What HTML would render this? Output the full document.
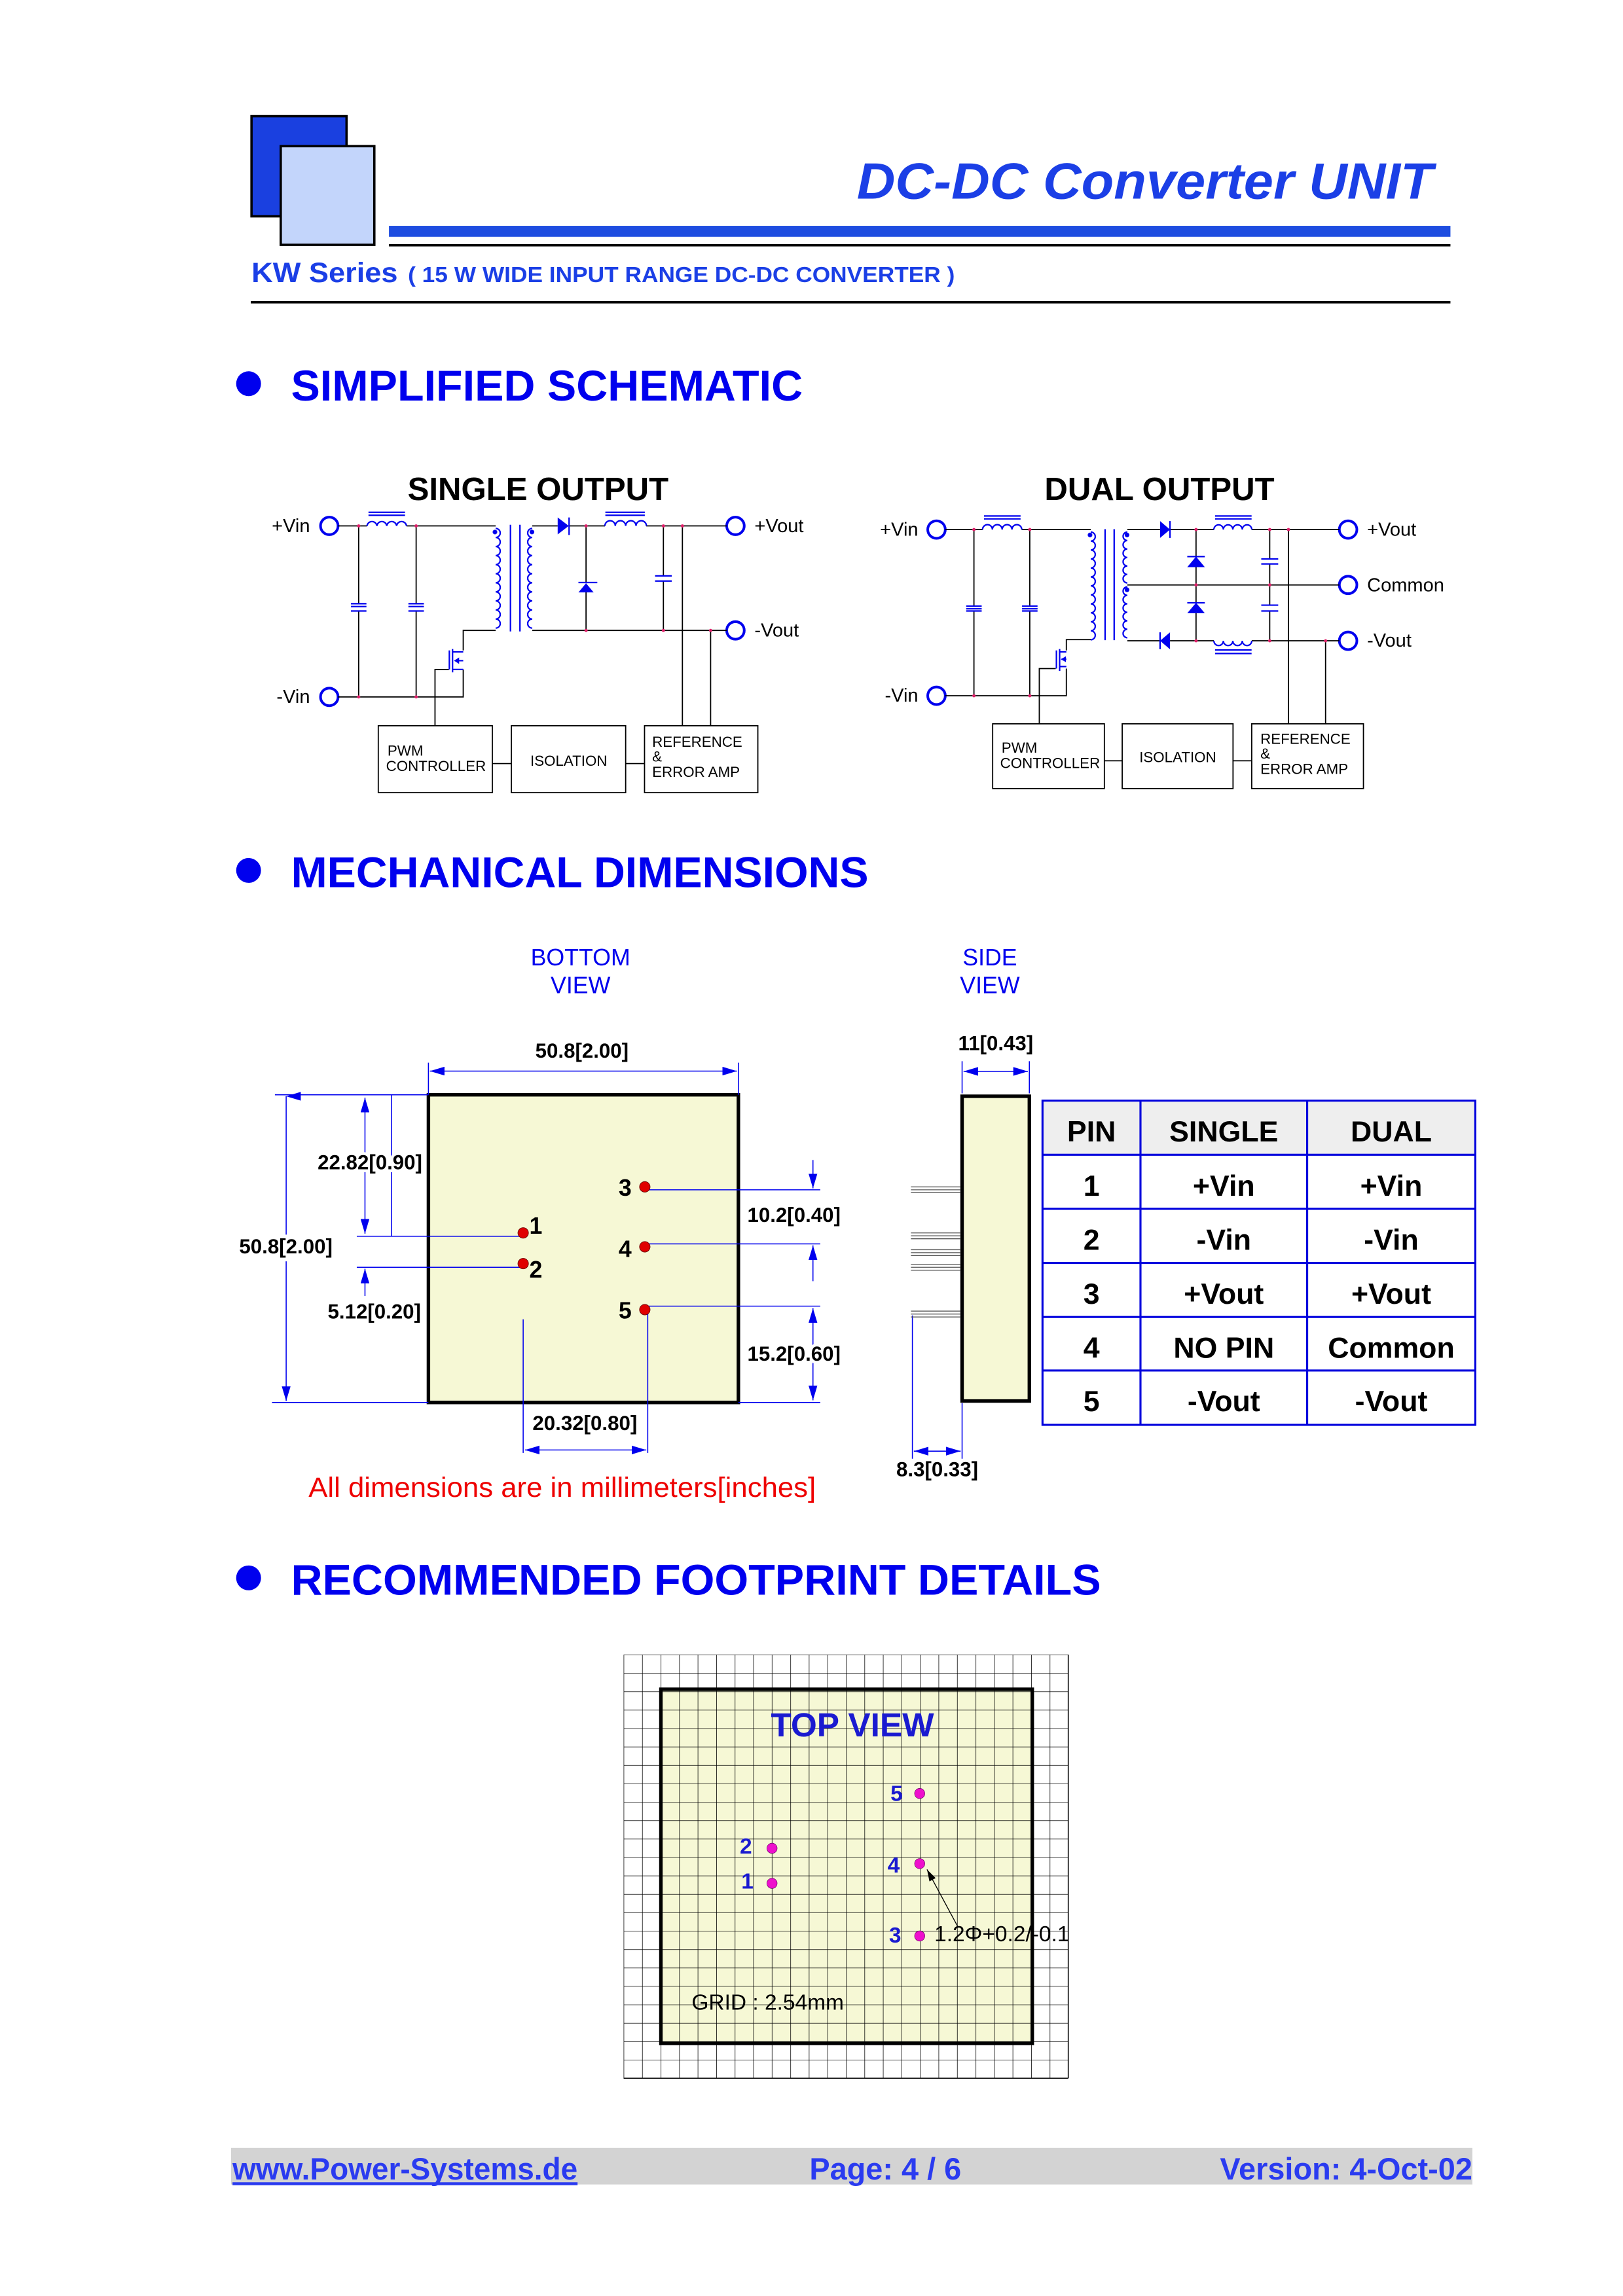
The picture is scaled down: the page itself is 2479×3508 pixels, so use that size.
<!DOCTYPE html>
<html><head><meta charset="utf-8"><style>
html,body{margin:0;padding:0;background:#fff}
svg{display:block}
text{font-family:"Liberation Sans",Arial,sans-serif}
</style></head><body>
<svg width="2479" height="3508" viewBox="0 0 1110 1570.8" xmlns="http://www.w3.org/2000/svg">
<defs>
<pattern id="grid" x="426.5" y="1132" width="12.67" height="12.6" patternUnits="userSpaceOnUse">
<path d="M0 0H12.67M0 0V12.6" stroke="#000" stroke-width="0.7" fill="none"/>
</pattern>
<marker id="ar" viewBox="0 0 10 6" refX="10" refY="3" markerWidth="10" markerHeight="6" orient="auto-start-reverse" markerUnits="userSpaceOnUse"><path d="M0 0L10 3L0 6z" fill="#0000ee"/></marker>
<marker id="ak" viewBox="0 0 10 6" refX="10" refY="3" markerWidth="8" markerHeight="5" orient="auto" markerUnits="userSpaceOnUse"><path d="M0 0L10 3L0 6z" fill="#000"/></marker>
</defs>

<!-- HEADER -->
<rect x="172" y="79.5" width="65" height="68.5" fill="#1a40e0" stroke="#000" stroke-width="1.6"/>
<rect x="192" y="100" width="64" height="67.5" fill="#c3d5fb" stroke="#000" stroke-width="1.6"/>
<text x="980" y="136" text-anchor="end" font-size="35" font-weight="bold" font-style="italic" fill="#1b3fe6" textLength="394" lengthAdjust="spacingAndGlyphs">DC-DC Converter UNIT</text>
<rect x="266" y="154.5" width="726" height="7.5" fill="#1e4de0"/>
<rect x="266" y="167" width="726" height="1.6" fill="#000"/>
<text x="172" y="193" font-size="19" font-weight="bold" fill="#1b3fe6" textLength="100" lengthAdjust="spacingAndGlyphs">KW Series</text>
<text x="279" y="193" font-size="15" font-weight="bold" fill="#1b3fe6" textLength="374" lengthAdjust="spacingAndGlyphs">( 15 W WIDE INPUT RANGE DC-DC CONVERTER )</text>
<rect x="171.5" y="206" width="820.5" height="1.6" fill="#000"/>

<!-- SECTION HEADINGS -->
<circle cx="170" cy="262.5" r="8.5" fill="#0000ee"/>
<text x="199" y="274" font-size="29.5" font-weight="bold" fill="#0000ee" textLength="350" lengthAdjust="spacingAndGlyphs">SIMPLIFIED SCHEMATIC</text>
<circle cx="170" cy="595.5" r="8.5" fill="#0000ee"/>
<text x="199" y="607" font-size="29.5" font-weight="bold" fill="#0000ee" textLength="395" lengthAdjust="spacingAndGlyphs">MECHANICAL DIMENSIONS</text>
<circle cx="170" cy="1079.5" r="8.5" fill="#0000ee"/>
<text x="199" y="1091" font-size="29.5" font-weight="bold" fill="#0000ee" textLength="554" lengthAdjust="spacingAndGlyphs">RECOMMENDED FOOTPRINT DETAILS</text>

<!-- SINGLE OUTPUT SCHEMATIC -->
<g stroke-width="0.8" fill="none">
<text x="368" y="342" text-anchor="middle" font-size="22" font-weight="bold" fill="#000" stroke="none">SINGLE OUTPUT</text>
<g fill="#000" stroke="none" font-size="13">
<text x="212" y="364" text-anchor="end">+Vin</text>
<text x="212" y="481" text-anchor="end">-Vin</text>
<text x="516" y="364">+Vout</text>
<text x="516" y="435.5">-Vout</text>
</g>
<g stroke="#0000ee" stroke-width="1.8">
<circle cx="225.2" cy="359.8" r="6"/><circle cx="225.2" cy="476.8" r="6"/>
<circle cx="503" cy="359.8" r="6"/><circle cx="503" cy="431.3" r="6"/>
</g>
<g stroke="#000">
<path d="M231.2 359.8H251M278 359.8H339M364 359.8H381.4M389 359.8H413.7M442 359.8H497"/>
<path d="M231.2 476.8H316.8V458M316.8 445V431.3H339M364 431.3H497"/>
<path d="M245.3 359.8V413M245.3 418V476.8M284.6 359.8V413M284.6 418V476.8"/>
<path d="M400.8 359.8V399M400.8 405V431.3"/>
<path d="M453.7 359.8V394M453.7 397.5V431.3M466.7 359.8V496.5M486 431.3V496.5"/>
<path d="M307 458H297.5V496.5"/>
<rect x="258.7" y="496.5" width="78" height="45.8"/>
<rect x="349.7" y="496.5" width="78.2" height="45.8"/>
<rect x="440.8" y="496.5" width="77.5" height="45.8"/>
<path d="M336.7 522.4H349.7M427.9 522.4H440.8"/>
</g>
<g stroke="#0000ee" stroke-width="1">
<path d="M240 413H250.6M240 415H250.6M240 418H250.6M279.3 413H289.9M279.3 415H289.9M279.3 418H289.9"/>
<path d="M448 394H459.4M448 397.5H459.4"/>
<path d="M252 350.5H277M252 352.5H277"/>
<path d="M414 350.5H441M414 352.5H441"/>
<path d="M349.1 359V432M355.6 359V432"/>
<path d="M251 359.8a3.4 3.4 0 0 1 6.75 0a3.4 3.4 0 0 1 6.75 0a3.4 3.4 0 0 1 6.75 0a3.4 3.4 0 0 1 6.75 0"/>
<path d="M413.7 359.8a3.5 3.5 0 0 1 7.1 0a3.5 3.5 0 0 1 7.1 0a3.5 3.5 0 0 1 7.1 0a3.5 3.5 0 0 1 7.1 0"/>
<path d="M339 361.5a3.1 3.1 0 0 1 0 6.2a3.1 3.1 0 0 1 0 6.2a3.1 3.1 0 0 1 0 6.2a3.1 3.1 0 0 1 0 6.2a3.1 3.1 0 0 1 0 6.2a3.1 3.1 0 0 1 0 6.2a3.1 3.1 0 0 1 0 6.2a3.1 3.1 0 0 1 0 6.2a3.1 3.1 0 0 1 0 6.2a3.1 3.1 0 0 1 0 6.2a3.1 3.1 0 0 1 0 6.2"/>
<path d="M364 361.5a3.1 3.1 0 0 0 0 6.2a3.1 3.1 0 0 0 0 6.2a3.1 3.1 0 0 0 0 6.2a3.1 3.1 0 0 0 0 6.2a3.1 3.1 0 0 0 0 6.2a3.1 3.1 0 0 0 0 6.2a3.1 3.1 0 0 0 0 6.2a3.1 3.1 0 0 0 0 6.2a3.1 3.1 0 0 0 0 6.2a3.1 3.1 0 0 0 0 6.2a3.1 3.1 0 0 0 0 6.2"/>
<path d="M307.3 445V458M309.5 444V460M309.5 446H316.8M309.5 458H316.8M316.8 452H311"/>
<path d="M389.2 354V366M395.6 398.5H408.5"/>
</g>
<g fill="#0000ee" stroke="none">
<circle cx="338.5" cy="364" r="1.6"/><circle cx="363.8" cy="364" r="1.6"/>
<path d="M381.4 354L389 359.8L381.4 365.6z"/>
<path d="M395.6 405.3L400.8 399L406 405.3z"/>
<path d="M310.5 452L314 449.8V454.2z"/>
</g>
<g fill="#000" stroke="none" font-size="10">
<text x="265" y="517">PWM</text><text x="264" y="527.5">CONTROLLER</text>
<text x="389" y="524" text-anchor="middle">ISOLATION</text>
<text x="446" y="511">REFERENCE</text><text x="446" y="521">&amp;</text><text x="446" y="531.5">ERROR AMP</text>
</g>
<g fill="#e0206a" stroke="none">
<circle cx="245.3" cy="359.8" r="1.1"/><circle cx="284.6" cy="359.8" r="1.1"/><circle cx="245.3" cy="476.8" r="1.1"/><circle cx="284.6" cy="476.8" r="1.1"/><circle cx="400.8" cy="359.8" r="1.1"/><circle cx="400.8" cy="431.3" r="1.1"/><circle cx="453.7" cy="359.8" r="1.1"/><circle cx="466.7" cy="359.8" r="1.1"/><circle cx="453.7" cy="431.3" r="1.1"/><circle cx="486" cy="431.3" r="1.1"/>
</g>
</g>

<!-- DUAL OUTPUT SCHEMATIC -->
<g stroke-width="0.8" fill="none">
<text x="793" y="342" text-anchor="middle" font-size="22" font-weight="bold" fill="#000" stroke="none">DUAL OUTPUT</text>
<g fill="#000" stroke="none" font-size="13">
<text x="628" y="366.5" text-anchor="end">+Vin</text>
<text x="628" y="480" text-anchor="end">-Vin</text>
<text x="935" y="366.5">+Vout</text>
<text x="935" y="404.5">Common</text>
<text x="935" y="442.5">-Vout</text>
</g>
<g stroke="#0000ee" stroke-width="1.8">
<circle cx="640.5" cy="362.3" r="6"/><circle cx="640.5" cy="476" r="6"/>
<circle cx="922" cy="362.3" r="6"/><circle cx="922" cy="400.2" r="6"/><circle cx="922" cy="438.4" r="6"/>
</g>
<g stroke="#000">
<path d="M646.5 362.3H672M698.8 362.3H746M771 362.3H793.4M800.2 362.3H830.2M856.1 362.3H916"/>
<path d="M771 400.2H916"/>
<path d="M771 438.4H793.4M800.2 438.4H830.2M856.1 438.4H916"/>
<path d="M646.5 476H729.3V457.4M729.3 445V437.6H746"/>
<path d="M666.1 362.3V414.7M666.1 418V476M704.3 362.3V414.7M704.3 418V476"/>
<path d="M818 362.3V380.8M818 388V412.4M818 419.5V438.4"/>
<path d="M868.4 362.3V382.4M868.4 385.8V414M868.4 418V438.4"/>
<path d="M881.2 362.3V495.2M906.6 438.4V495.2M722 457.4H710.8V495.2"/>
<rect x="678.9" y="495.2" width="76.4" height="44.3"/>
<rect x="767.5" y="495.2" width="75.8" height="44.3"/>
<rect x="856.1" y="495.2" width="76.4" height="44.3"/>
<path d="M755.3 520.5H767.5M843.3 520.5H856.1"/>
</g>
<g stroke="#0000ee" stroke-width="1">
<path d="M660.8 414.7H671.4M660.8 416.5H671.4M660.8 418H671.4M699 414.7H709.6M699 416.5H709.6M699 418H709.6"/>
<path d="M862.6 382.4H874.2M862.6 385.8H874.2M862.6 414H874.2M862.6 418H874.2"/>
<path d="M673 353H698M673 355H698M831 353H856M831 355H856M831 444.7H856M831 447.1H856"/>
<path d="M755.8 362V438M762 362V438"/>
<path d="M672 362.3a3.35 3.35 0 0 1 6.7 0a3.35 3.35 0 0 1 6.7 0a3.35 3.35 0 0 1 6.7 0a3.35 3.35 0 0 1 6.7 0"/>
<path d="M830.2 362.3a3.24 3.24 0 0 1 6.48 0a3.24 3.24 0 0 1 6.48 0a3.24 3.24 0 0 1 6.48 0a3.24 3.24 0 0 1 6.48 0"/>
<path d="M830.2 438.4a3.24 3.24 0 0 0 6.48 0a3.24 3.24 0 0 0 6.48 0a3.24 3.24 0 0 0 6.48 0a3.24 3.24 0 0 0 6.48 0"/>
<path d="M746 364a3.07 3.07 0 0 1 0 6.14a3.07 3.07 0 0 1 0 6.14a3.07 3.07 0 0 1 0 6.14a3.07 3.07 0 0 1 0 6.14a3.07 3.07 0 0 1 0 6.14a3.07 3.07 0 0 1 0 6.14a3.07 3.07 0 0 1 0 6.14a3.07 3.07 0 0 1 0 6.14a3.07 3.07 0 0 1 0 6.14a3.07 3.07 0 0 1 0 6.14a3.07 3.07 0 0 1 0 6.14a3.07 3.07 0 0 1 0 6.14"/>
<path d="M771 364a2.9 2.9 0 0 0 0 5.8a2.9 2.9 0 0 0 0 5.8a2.9 2.9 0 0 0 0 5.8a2.9 2.9 0 0 0 0 5.8a2.9 2.9 0 0 0 0 5.8a2.9 2.9 0 0 0 0 5.8M771 401.5a2.9 2.9 0 0 0 0 5.8a2.9 2.9 0 0 0 0 5.8a2.9 2.9 0 0 0 0 5.8a2.9 2.9 0 0 0 0 5.8a2.9 2.9 0 0 0 0 5.8a2.9 2.9 0 0 0 0 5.8"/>
<path d="M722.5 445V457.4M724.7 444V459M724.7 446H729.3M724.7 456H729.3M729.3 451H726"/>
<path d="M800.2 356.5V368M793.4 432.6V444.2M812 380.8H824M812 412.4H824"/>
</g>
<g fill="#0000ee" stroke="none">
<circle cx="745.5" cy="366" r="1.6"/><circle cx="770.8" cy="366" r="1.6"/><circle cx="770.8" cy="403.5" r="1.6"/>
<path d="M793.4 356.5L800.2 362.3L793.4 368z"/>
<path d="M800.2 432.6L793.4 438.4L800.2 444.2z"/>
<path d="M812 388L818 380.8L824 388z"/>
<path d="M812 419.5L818 412.4L824 419.5z"/>
<path d="M725.5 451L729 449V453z"/>
</g>
<g fill="#000" stroke="none" font-size="10">
<text x="685" y="515">PWM</text><text x="684" y="525.5">CONTROLLER</text>
<text x="805.5" y="521.5" text-anchor="middle">ISOLATION</text>
<text x="862" y="509">REFERENCE</text><text x="862" y="519">&amp;</text><text x="862" y="529.5">ERROR AMP</text>
</g>
<g fill="#e0206a" stroke="none">
<circle cx="666.1" cy="362.3" r="1.1"/><circle cx="704.3" cy="362.3" r="1.1"/><circle cx="666.1" cy="476" r="1.1"/><circle cx="704.3" cy="476" r="1.1"/><circle cx="818" cy="362.3" r="1.1"/><circle cx="818" cy="400.2" r="1.1"/><circle cx="818" cy="438.4" r="1.1"/><circle cx="868.4" cy="362.3" r="1.1"/><circle cx="868.4" cy="400.2" r="1.1"/><circle cx="868.4" cy="438.4" r="1.1"/><circle cx="881.2" cy="362.3" r="1.1"/><circle cx="906.6" cy="438.4" r="1.1"/>
</g>
</g>

<!-- MECHANICAL: BOTTOM VIEW -->
<text x="397" y="660.5" text-anchor="middle" font-size="16" fill="#0000ee">BOTTOM</text>
<text x="397" y="679.5" text-anchor="middle" font-size="16" fill="#0000ee">VIEW</text>
<text x="677" y="660.5" text-anchor="middle" font-size="16" fill="#0000ee">SIDE</text>
<text x="677" y="679.5" text-anchor="middle" font-size="16" fill="#0000ee">VIEW</text>

<rect x="293" y="749" width="212" height="210.5" fill="#f6f8d5" stroke="#000" stroke-width="2.4"/>
<g stroke="#0000ee" stroke-width="0.7" fill="none">
<path d="M293 727V749M505 727V749"/>
<path d="M294 732.8H504" marker-start="url(#ar)" marker-end="url(#ar)"/>
<path d="M188 749H293M186 959.5H293"/>
<path d="M195.7 750H195.7V958.5" marker-start="url(#ar)" marker-end="url(#ar)"/>
<path d="M249.6 751V844" marker-start="url(#ar)" marker-end="url(#ar)"/>
<path d="M267.8 749V845.8"/>
<path d="M244 845.8H357M244 867H357"/>
<path d="M249.6 886.6V868" marker-end="url(#ar)"/>
<path d="M357.8 902.6V994M443 893.6V994"/>
<path d="M359 992H442" marker-start="url(#ar)" marker-end="url(#ar)"/>
<path d="M443 814H561M443 851H561M443 893.6H561M505 959.5H561"/>
<path d="M556 793.6V813" marker-end="url(#ar)"/>
<path d="M556 876.5V852" marker-end="url(#ar)"/>
<path d="M556 895V958" marker-start="url(#ar)" marker-end="url(#ar)"/>
</g>
<g fill="#e00000" stroke="#600" stroke-width="0.4">
<circle cx="357.8" cy="843.5" r="3.6"/><circle cx="357.8" cy="864.5" r="3.6"/>
<circle cx="441" cy="812" r="3.6"/><circle cx="441" cy="853" r="3.6"/><circle cx="441" cy="896" r="3.6"/>
</g>
<g font-size="14" font-weight="bold" fill="#000">
<text x="398" y="723.5" text-anchor="middle">50.8[2.00]</text>
<text x="195.5" y="857.5" text-anchor="middle" fill="#000" stroke="#fff" stroke-width="5" paint-order="stroke">50.8[2.00]</text>
<text x="253" y="800" text-anchor="middle" stroke="#fff" stroke-width="4" paint-order="stroke">22.82[0.90]</text>
<text x="256" y="902" text-anchor="middle">5.12[0.20]</text>
<text x="543" y="836" text-anchor="middle" stroke="#fff" stroke-width="4" paint-order="stroke">10.2[0.40]</text>
<text x="543" y="931" text-anchor="middle" stroke="#fff" stroke-width="4" paint-order="stroke">15.2[0.60]</text>
<text x="400" y="978.5" text-anchor="middle">20.32[0.80]</text>
<text x="681" y="718.5" text-anchor="middle">11[0.43]</text>
<text x="641" y="1010" text-anchor="middle">8.3[0.33]</text>
</g>
<g font-size="16" font-weight="bold" fill="#000">
<text x="362" y="844">1</text><text x="362" y="874">2</text>
<text x="432" y="818" text-anchor="end">3</text><text x="432" y="860" text-anchor="end">4</text><text x="432" y="902" text-anchor="end">5</text>
</g>
<text x="211" y="1024" font-size="19" fill="#ee0000" textLength="347" lengthAdjust="spacingAndGlyphs">All dimensions are in millimeters[inches]</text>

<!-- SIDE VIEW -->
<rect x="658" y="750" width="46" height="208.5" fill="#f6f8d5" stroke="#000" stroke-width="2.4"/>
<g stroke="#0000ee" stroke-width="0.7" fill="none">
<path d="M658 726V748M704 726V748"/>
<path d="M659 733H703" marker-start="url(#ar)" marker-end="url(#ar)"/>
<path d="M624 900V998M658 960V998"/>
<path d="M625 992.8H657" marker-start="url(#ar)" marker-end="url(#ar)"/>
</g>
<g stroke="#555" stroke-width="0.6">
<path d="M623 812H657M623 814H657M623 816H657"/>
<path d="M623 843.5H657M623 845.5H657M623 847.5H657"/>
<path d="M623 855H657M623 857H657M623 859H657"/>
<path d="M623 865H657M623 867H657M623 869H657"/>
<path d="M623 897H657M623 899H657M623 901H657"/>
</g>

<!-- TABLE -->
<rect x="713" y="753" width="296" height="37" fill="#eeeeee"/>
<g stroke="#0000dd" stroke-width="1.4" fill="none">
<rect x="713" y="753" width="296" height="221.8"/>
<path d="M713 790H1009M713 827H1009M713 864H1009M713 901H1009M713 937.6H1009M780 753V974.8M894 753V974.8"/>
</g>
<g font-size="20" font-weight="bold" fill="#000" text-anchor="middle">
<text x="746.5" y="781">PIN</text><text x="837" y="781">SINGLE</text><text x="951.5" y="781">DUAL</text>
<text x="746.5" y="818">1</text><text x="837" y="818">+Vin</text><text x="951.5" y="818">+Vin</text>
<text x="746.5" y="855">2</text><text x="837" y="855">-Vin</text><text x="951.5" y="855">-Vin</text>
<text x="746.5" y="892">3</text><text x="837" y="892">+Vout</text><text x="951.5" y="892">+Vout</text>
<text x="746.5" y="929">4</text><text x="837" y="929">NO PIN</text><text x="951.5" y="929">Common</text>
<text x="746.5" y="965.5">5</text><text x="837" y="965.5">-Vout</text><text x="951.5" y="965.5">-Vout</text>
</g>

<!-- FOOTPRINT -->
<rect x="452" y="1155.7" width="254" height="242.3" fill="#f6f8d5"/>
<rect x="426.5" y="1132" width="304.1" height="289.8" fill="url(#grid)"/>
<path d="M730.6 1132V1421.8M426.5 1421.8H730.6" stroke="#000" stroke-width="0.7"/>
<rect x="452" y="1155.7" width="254" height="242.3" fill="none" stroke="#000" stroke-width="2.4"/>
<text x="583" y="1188" text-anchor="middle" font-size="23" font-weight="bold" fill="#1a1ad0">TOP VIEW</text>
<g fill="#ee10cc" stroke="#600060" stroke-width="0.3">
<circle cx="629" cy="1227" r="3.5"/><circle cx="528" cy="1264.5" r="3.5"/><circle cx="528" cy="1288.5" r="3.5"/><circle cx="629" cy="1275" r="3.5"/><circle cx="629" cy="1324.5" r="3.5"/>
</g>
<g font-size="15" font-weight="bold" fill="#1a1ad0">
<text x="609" y="1232">5</text><text x="506" y="1268">2</text><text x="507" y="1292">1</text><text x="607" y="1281">4</text><text x="608" y="1329">3</text>
</g>
<path d="M655 1318L634 1279" stroke="#000" stroke-width="0.6" marker-end="url(#ak)"/>
<text x="639" y="1328" font-size="15" fill="#000">1.2Φ+0.2/-0.1</text>
<text x="473" y="1375" font-size="15" fill="#000">GRID : 2.54mm</text>

<!-- FOOTER -->
<rect x="158" y="1469.5" width="849" height="25" fill="#d3d3d3"/>
<text x="159" y="1491" font-size="21" font-weight="bold" fill="#2a3bf0" textLength="236" lengthAdjust="spacingAndGlyphs">www.Power-Systems.de</text>
<rect x="159" y="1493" width="236" height="2" fill="#2a3bf0"/>
<text x="605.5" y="1491" text-anchor="middle" font-size="21" font-weight="bold" fill="#2a3bf0">Page: 4 / 6</text>
<text x="1007" y="1491" text-anchor="end" font-size="21" font-weight="bold" fill="#2a3bf0">Version: 4-Oct-02</text>
</svg>
</body></html>
